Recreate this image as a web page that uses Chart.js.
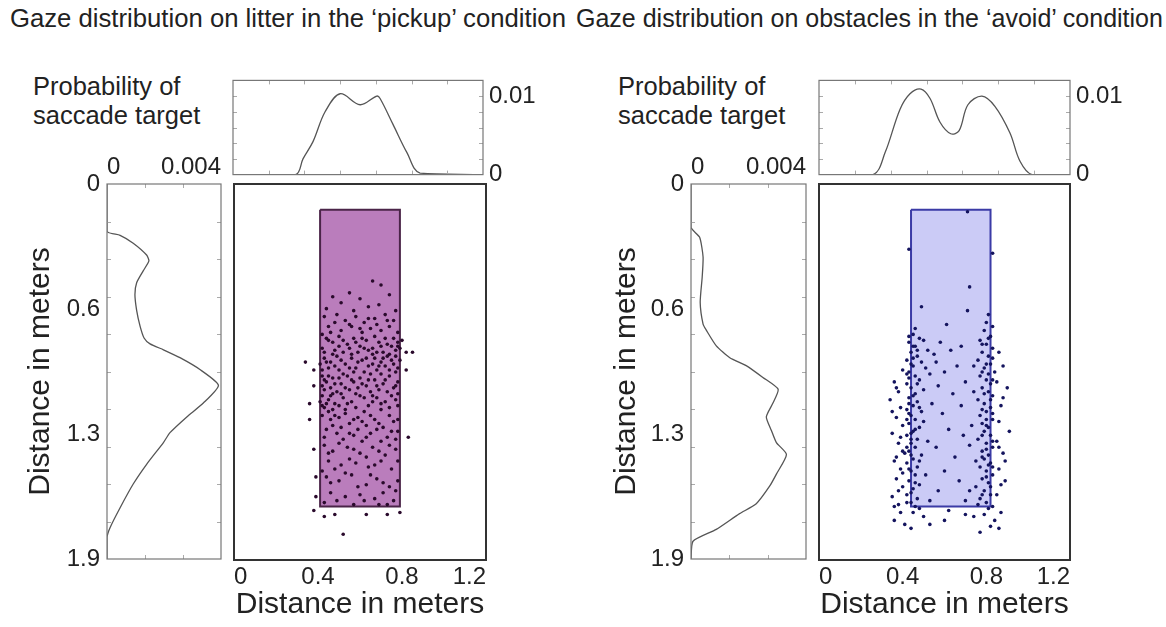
<!DOCTYPE html>
<html>
<head>
<meta charset="utf-8">
<script src="https://cdn.jsdelivr.net/npm/chart.js@4"></script>
<style>
  body { margin: 0; width: 1166px; height: 627px; overflow: hidden; position: relative; background: #fff;
         font-family: "Liberation Sans", Arial, sans-serif; color: #222; }
  canvas { position: absolute; }
  .title { position: absolute; top: 4px; font-size: 25.7px; white-space: nowrap; }
  .prob { position: absolute; top: 72px; font-size: 25.5px; line-height: 29px; white-space: nowrap; }
</style>
</head>
<body>
<div class="title" style="left:10px">Gaze distribution on litter in the ‘pickup’ condition</div>
<div class="title" style="left:576px;font-size:25px">Gaze distribution on obstacles in the ‘avoid’ condition</div>
<div class="prob" style="left:33px">Probability of<br>saccade target</div>
<div class="prob" style="left:618px">Probability of<br>saccade target</div>

<canvas id="topPickup"></canvas>
<canvas id="sidePickup"></canvas>
<canvas id="mainPickup"></canvas>
<canvas id="topAvoid"></canvas>
<canvas id="sideAvoid"></canvas>
<canvas id="mainAvoid"></canvas>

<script>
// --- ticks ---
const distTicks = [0, 0.4, 0.8, 1.2];
const sideDistTicks = [0, 0.633, 1.267, 1.9];
const sideProbTicks = [0, 0.004];
const topProbTicks = [0, 0.01];

// --- gaze target box (meters) ---
const pickupBoxX = [0.41, 0.79];
const pickupBoxY = [0.13, 1.63];
const avoidBoxX = [0.44, 0.82];
const avoidBoxY = [0.13, 1.63];

// --- horizontal distribution (top marginal) ---
const pickupTopX = [0, 0.30, 0.336, 0.384, 0.442, 0.514, 0.61, 0.69, 0.706, 0.768, 0.835, 0.898, 1.2];
const pickupTopP = [0, 0, 0.0020, 0.0042, 0.0080, 0.0103, 0.0089, 0.0100, 0.0097, 0.0064, 0.0028, 0.0002, 0];
const avoidTopX = [0, 0.258, 0.316, 0.387, 0.435, 0.488, 0.531, 0.578, 0.630, 0.670, 0.712, 0.779, 0.841, 0.913, 0.961, 1.018, 1.2];
const avoidTopP = [0, 0, 0.0028, 0.0083, 0.0103, 0.0109, 0.0097, 0.0067, 0.0052, 0.0056, 0.0089, 0.0100, 0.0087, 0.0053, 0.0017, 0, 0];

// --- distance distribution (left marginal) ---
const pickupSideDist = [0, 0.24, 0.26, 0.30, 0.36, 0.39, 0.44, 0.50, 0.56, 0.64, 0.72, 0.78, 0.81, 0.84, 0.88, 0.94, 1.02, 1.11, 1.18, 1.26, 1.31, 1.42, 1.52, 1.64, 1.74, 1.79, 1.9];
const pickupSideP = [0, 0, 0.00046, 0.00092, 0.00139, 0.00147, 0.00127, 0.00104, 0.00098, 0.00104, 0.00116, 0.00130, 0.00151, 0.00198, 0.00256, 0.00326, 0.00391, 0.00338, 0.00280, 0.00221, 0.00198, 0.00139, 0.00092, 0.00046, 0.00011, 0, 0];
const avoidSideDist = [0, 0.22, 0.27, 0.37, 0.47, 0.60, 0.71, 0.74, 0.82, 0.88, 0.92, 0.98, 1.04, 1.11, 1.18, 1.25, 1.31, 1.37, 1.47, 1.53, 1.62, 1.67, 1.75, 1.81, 1.9];
const avoidSideP = [0, 0, 0.00030, 0.00042, 0.00039, 0.00032, 0.00042, 0.00053, 0.00088, 0.00135, 0.00192, 0.00250, 0.00303, 0.00285, 0.00262, 0.00280, 0.00297, 0.00332, 0.00297, 0.00274, 0.00227, 0.00169, 0.00088, 0.00007, 0];

// --- saccade targets [x, distance] ---
const pickupGaze = [
  [0.66,0.49],[0.70,0.51],[0.55,0.55],[0.47,0.57],[0.60,0.58],[0.74,0.56],[0.51,0.60],[0.64,0.62],[0.44,0.63],[0.69,0.61],[0.77,0.64],[0.57,0.64],
  [0.43,0.67],[0.49,0.66],[0.53,0.69],[0.58,0.67],[0.62,0.70],[0.67,0.68],[0.72,0.66],[0.76,0.69],[0.45,0.72],[0.51,0.74],[0.56,0.72],[0.61,0.75],[0.65,0.73],[0.70,0.74],[0.74,0.72],[0.78,0.75],[0.42,0.76],[0.68,0.71],
  [0.48,0.70],[0.55,0.71],[0.64,0.68],[0.73,0.69],[0.60,0.73],[0.46,0.75],
  [0.44,0.78],[0.47,0.80],[0.50,0.77],[0.54,0.81],[0.57,0.78],[0.60,0.82],[0.63,0.79],[0.66,0.83],[0.69,0.80],[0.72,0.78],[0.75,0.82],[0.78,0.80],[0.42,0.83],[0.48,0.84],[0.52,0.85],[0.59,0.85],[0.64,0.84],[0.71,0.85],[0.77,0.84],[0.80,0.79],[0.82,0.85],[0.85,0.85],[0.55,0.83],[0.74,0.86],
  [0.45,0.79],[0.52,0.79],[0.58,0.80],[0.61,0.78],[0.67,0.77],[0.70,0.82],[0.76,0.78],[0.79,0.83],[0.43,0.85],[0.50,0.82],[0.56,0.86],[0.62,0.83],[0.68,0.85],[0.73,0.81],[0.77,0.87],[0.78,0.82],
  [0.43,0.88],[0.46,0.90],[0.49,0.87],[0.53,0.91],[0.56,0.88],[0.61,0.89],[0.64,0.92],[0.67,0.88],[0.70,0.90],[0.73,0.87],[0.76,0.91],[0.79,0.89],[0.45,0.93],[0.50,0.94],[0.58,0.93],[0.62,0.95],[0.68,0.94],[0.72,0.92],[0.77,0.95],[0.41,0.91],[0.34,0.90],[0.47,0.86],[0.66,0.86],[0.38,0.94],
  [0.44,0.90],[0.48,0.92],[0.51,0.89],[0.55,0.93],[0.59,0.90],[0.63,0.88],[0.66,0.91],[0.69,0.92],[0.71,0.88],[0.75,0.89],[0.78,0.93],[0.42,0.94],[0.52,0.96],[0.57,0.95],[0.65,0.96],[0.70,0.96],[0.74,0.94],
  [0.42,0.97],[0.44,1.00],[0.47,0.98],[0.51,1.01],[0.54,0.97],[0.57,1.00],[0.60,0.98],[0.63,1.02],[0.67,0.99],[0.71,1.01],[0.74,0.97],[0.78,1.00],[0.43,1.04],[0.46,1.03],[0.49,1.05],[0.55,1.04],[0.65,1.05],[0.69,1.04],[0.76,1.03],[0.38,1.02],[0.82,0.94],[0.59,1.03],
  [0.43,0.99],[0.45,0.97],[0.48,1.01],[0.50,0.98],[0.53,1.03],[0.56,0.99],[0.61,1.01],[0.64,0.99],[0.68,1.02],[0.72,0.99],[0.77,1.02],[0.42,1.02],[0.47,1.06],[0.51,1.06],[0.58,1.06],[0.62,1.08],[0.66,1.07],[0.73,1.05],[0.78,1.06],
  [0.42,1.07],[0.45,1.09],[0.48,1.11],[0.52,1.08],[0.56,1.10],[0.60,1.07],[0.64,1.12],[0.68,1.08],[0.72,1.10],[0.75,1.07],[0.78,1.12],[0.43,1.13],[0.47,1.14],[0.53,1.14],[0.62,1.15],[0.70,1.14],[0.36,1.11],[0.41,1.10],
  [0.44,1.11],[0.46,1.07],[0.50,1.12],[0.54,1.11],[0.58,1.13],[0.66,1.10],[0.70,1.11],[0.74,1.13],[0.77,1.09],[0.42,1.12],
  [0.42,1.17],[0.46,1.19],[0.50,1.18],[0.55,1.21],[0.59,1.18],[0.63,1.22],[0.67,1.19],[0.71,1.23],[0.76,1.20],[0.44,1.24],[0.49,1.26],[0.57,1.27],[0.65,1.26],[0.73,1.28],[0.78,1.25],[0.83,1.28],[0.36,1.19],[0.52,1.29],[0.61,1.30],
  [0.45,1.15],[0.48,1.17],[0.53,1.16],[0.57,1.19],[0.61,1.20],[0.65,1.17],[0.69,1.21],[0.74,1.17],[0.78,1.19],
  [0.47,1.22],[0.51,1.23],[0.59,1.24],[0.68,1.24],[0.75,1.25],[0.43,1.28],[0.55,1.26],[0.63,1.28],[0.70,1.30],[0.77,1.29],
  [0.43,1.32],[0.47,1.35],[0.54,1.33],[0.60,1.36],[0.66,1.33],[0.72,1.37],[0.77,1.34],[0.45,1.40],[0.51,1.42],[0.58,1.41],[0.64,1.43],[0.70,1.40],[0.75,1.44],[0.38,1.34],[0.42,1.45],
  [0.45,1.36],[0.50,1.31],[0.57,1.34],[0.63,1.38],[0.69,1.35],[0.74,1.32],[0.48,1.44],[0.55,1.39],[0.67,1.42],[0.78,1.40],
  [0.44,1.48],[0.50,1.50],[0.56,1.47],[0.63,1.52],[0.68,1.49],[0.74,1.53],[0.78,1.50],[0.46,1.56],[0.53,1.58],[0.60,1.57],[0.67,1.59],[0.71,1.56],[0.76,1.60],[0.43,1.61],[0.57,1.62],[0.73,1.62],[0.39,1.48],[0.39,1.58],
  [0.46,1.51],[0.53,1.46],[0.59,1.53],[0.65,1.47],[0.71,1.51],[0.77,1.55],[0.49,1.60],[0.62,1.60],[0.69,1.62],
  [0.38,1.65],[0.43,1.68],[0.48,1.67],[0.63,1.67],[0.73,1.67],[0.79,1.66],[0.52,1.77]
];
const avoidGaze = [
  [0.71,0.14],[0.83,0.35],[0.43,0.33],[0.72,0.52],[0.49,0.62],[0.71,0.64],[0.81,0.66],[0.61,0.71],[0.46,0.73],[0.80,0.70],[0.83,0.72],
  [0.45,0.76],[0.48,0.78],[0.43,0.80],[0.50,0.79],[0.46,0.82],[0.52,0.84],[0.44,0.85],[0.47,0.87],[0.42,0.89],[0.49,0.90],[0.45,0.92],[0.51,0.93],[0.43,0.95],[0.46,0.97],[0.48,0.99],[0.42,1.01],[0.44,1.03],[0.50,1.04],[0.46,1.06],[0.43,1.08],
  [0.47,1.10],[0.45,1.12],[0.42,1.14],[0.49,1.15],[0.44,1.17],[0.46,1.19],[0.43,1.21],[0.48,1.23],[0.45,1.25],[0.42,1.27],[0.47,1.29],[0.44,1.31],[0.46,1.33],[0.43,1.35],[0.49,1.37],[0.45,1.39],[0.42,1.41],[0.47,1.43],[0.44,1.45],[0.46,1.47],
  [0.43,1.50],[0.48,1.52],[0.45,1.54],[0.42,1.57],[0.47,1.59],[0.44,1.61],[0.46,1.63],[0.43,0.98],[0.44,1.26],[0.45,0.88],[0.43,1.16],[0.41,1.36],[0.53,0.96],[0.54,1.11],[0.52,1.30],[0.51,1.47],[0.55,0.86],[0.53,1.60],[0.50,1.20],
  [0.43,0.77],[0.47,0.84],[0.44,0.91],[0.42,0.96],[0.47,1.01],[0.45,1.07],[0.43,1.11],[0.48,1.13],[0.42,1.19],[0.46,1.24],[0.44,1.29],[0.42,1.33],[0.48,1.40],[0.43,1.44],[0.46,1.51],[0.44,1.56],[0.42,1.61],[0.48,1.64],[0.45,0.82],[0.44,1.37],
  [0.36,1.00],[0.38,1.05],[0.34,1.09],[0.39,1.13],[0.37,1.18],[0.40,1.22],[0.35,1.26],[0.38,1.31],[0.40,1.35],[0.36,1.40],[0.39,1.44],[0.37,1.49],[0.40,1.53],[0.35,1.58],[0.38,1.62],[0.40,0.94],[0.39,1.66],[0.36,1.70],[0.41,1.72],[0.38,1.55],
  [0.37,1.03],[0.35,1.15],[0.39,1.28],[0.37,1.38],[0.40,1.46],[0.36,1.63],
  [0.79,0.74],[0.82,0.77],[0.77,0.79],[0.80,0.81],[0.83,0.83],[0.78,0.85],[0.81,0.87],[0.76,0.89],[0.82,0.91],[0.79,0.93],[0.84,0.95],[0.77,0.97],[0.80,0.99],[0.82,1.01],[0.78,1.03],[0.81,1.05],[0.83,1.07],[0.76,1.09],[0.79,1.11],[0.82,1.13],
  [0.80,1.15],[0.77,1.17],[0.83,1.19],[0.78,1.21],[0.81,1.23],[0.79,1.25],[0.82,1.27],[0.76,1.29],[0.80,1.31],[0.83,1.33],[0.78,1.35],[0.81,1.37],[0.79,1.39],[0.82,1.41],[0.77,1.43],[0.80,1.45],[0.83,1.47],[0.78,1.49],[0.81,1.51],[0.75,1.53],
  [0.79,1.55],[0.82,1.57],[0.77,1.59],[0.80,1.61],[0.83,1.63],[0.74,1.05],[0.73,1.22],[0.75,1.40],[0.72,1.55],[0.74,0.92],[0.72,1.32],[0.76,1.62],[0.81,0.96],[0.80,1.19],[0.81,1.42],
  [0.81,0.78],[0.78,0.81],[0.83,0.88],[0.80,0.91],[0.78,0.95],[0.83,0.99],[0.79,1.06],[0.82,1.09],[0.78,1.14],[0.83,1.16],[0.80,1.22],[0.78,1.27],[0.83,1.30],[0.80,1.34],[0.78,1.38],[0.83,1.43],[0.80,1.48],[0.82,1.53],[0.78,1.57],[0.81,1.64],
  [0.86,0.85],[0.88,0.92],[0.85,1.00],[0.90,1.03],[0.87,1.12],[0.86,1.20],[0.91,1.25],[0.85,1.30],[0.88,1.36],[0.86,1.44],[0.89,1.50],[0.85,1.57],[0.87,1.66],[0.84,1.70],[0.86,1.74],
  [0.88,1.08],[0.86,1.33],[0.89,1.40],[0.87,1.52],
  [0.58,0.80],[0.63,0.84],[0.68,0.82],[0.56,0.90],[0.66,0.92],[0.60,0.95],[0.70,1.00],[0.57,1.02],[0.64,1.06],[0.68,1.12],[0.59,1.16],[0.62,1.24],[0.69,1.27],[0.56,1.33],[0.65,1.38],[0.60,1.45],[0.67,1.50],[0.57,1.55],[0.70,1.60],[0.62,1.65],
  [0.45,1.66],[0.50,1.68],[0.53,1.72],[0.60,1.70],[0.70,1.67],[0.74,1.68],[0.79,1.67],[0.82,1.73],[0.44,1.74],[0.77,1.76]
];

Chart.defaults.font.family = '"Liberation Sans", Arial, sans-serif';
Chart.defaults.color = "#222";

const tickFont = { size: 24 };
const axisTitleFont = { size: 30 };

// frame around the plot area, with small inward ticks
const framePlugin = {
    id: "frame",
    afterDraw(chart, args, opts) {
        const { ctx, chartArea: a } = chart;
        ctx.save();
        ctx.strokeStyle = opts.tickColor || "#aaa";
        ctx.lineWidth = 1;
        const nx = opts.nx || 0, ny = opts.ny || 0, len = 4;
        for (let i = 1; i < nx; i++) {
            const x = Math.round(a.left + (a.right - a.left) * i / nx) + 0.5;
            ctx.beginPath();
            ctx.moveTo(x, a.top); ctx.lineTo(x, a.top + len);
            ctx.moveTo(x, a.bottom); ctx.lineTo(x, a.bottom - len);
            ctx.stroke();
        }
        for (let i = 1; i < ny; i++) {
            const y = Math.round(a.top + (a.bottom - a.top) * i / ny) + 0.5;
            ctx.beginPath();
            ctx.moveTo(a.left, y); ctx.lineTo(a.left + len, y);
            ctx.moveTo(a.right, y); ctx.lineTo(a.right - len, y);
            ctx.stroke();
        }
        ctx.strokeStyle = opts.color || "#444";
        ctx.lineWidth = opts.width || 1.5;
        ctx.strokeRect(a.left, a.top, a.right - a.left, a.bottom - a.top);
        ctx.restore();
    },
};

function place(id, box) {
    const c = document.getElementById(id);
    c.width = box.w;
    c.height = box.h;
    c.style.left = box.x + "px";
    c.style.top = box.y + "px";
    c.style.width = box.w + "px";
    c.style.height = box.h + "px";
    return c;
}

const noGrid = { display: false, drawTicks: false };
const noBorder = { display: false };
const base = { responsive: false, animation: false, events: [] };

function pairs(xs, ys) {
    return xs.map((x, i) => ({ x: x, y: ys[i] }));
}

// --- top marginal: probability over horizontal distance ---
function topChart(id, box, area, xs, ps) {
    const axisW = 60;
    new Chart(place(id, box), {
        type: "scatter",
        data: { datasets: [{
            data: pairs(xs, ps),
            showLine: true, tension: 0.35, pointRadius: 0,
            borderColor: "#555", borderWidth: 1.3,
        }] },
        options: Object.assign({}, base, {
            layout: { padding: {
                left: area.l - box.x, top: area.t - box.y,
                right: box.x + box.w - area.r - axisW, bottom: box.y + box.h - area.b,
            } },
            plugins: { legend: { display: false }, tooltip: { enabled: false },
                       frame: { color: "#777", width: 1.2, nx: 7, ny: 6 } },
            scales: {
                x: { display: false, min: 0, max: 1.2 },
                y: {
                    position: "right", min: 0, max: 0.012,
                    afterBuildTicks: (s) => { s.ticks = topProbTicks.map((v) => ({ value: v })); },
                    afterFit: (s) => { s.width = axisW; },
                    ticks: { font: tickFont, padding: 6, callback: (v) => String(v) },
                    grid: noGrid, border: noBorder,
                },
            },
        }),
        plugins: [framePlugin],
    });
}

// --- left marginal: probability over distance ahead ---
function sideChart(id, box, area, dist, ps, titlePad) {
    const axisW = area.l - box.x;
    const axisH = area.t - box.y;
    new Chart(place(id, box), {
        type: "scatter",
        data: { datasets: [{
            data: pairs(ps, dist),
            showLine: true, tension: 0.2, pointRadius: 0,
            borderColor: "#555", borderWidth: 1.3,
        }] },
        options: Object.assign({}, base, {
            layout: { padding: { left: 0, top: 0, right: box.x + box.w - area.r, bottom: box.y + box.h - area.b } },
            plugins: { legend: { display: false }, tooltip: { enabled: false },
                       frame: { color: "#777", width: 1.2, nx: 3, ny: 10 } },
            scales: {
                x: {
                    position: "top", min: 0, max: 0.004,
                    afterBuildTicks: (s) => { s.ticks = sideProbTicks.map((v) => ({ value: v })); },
                    afterFit: (s) => { s.height = axisH; },
                    ticks: { font: tickFont, padding: 2, align: "inner", maxRotation: 0,
                             callback: (v) => (v === 0 ? "0" : v.toFixed(3)) },
                    grid: noGrid, border: noBorder,
                },
                y: {
                    position: "left", min: 0, max: 1.9, reverse: true,
                    afterBuildTicks: (s) => { s.ticks = sideDistTicks.map((v) => ({ value: v })); },
                    afterFit: (s) => { s.width = axisW; },
                    ticks: { font: tickFont, padding: 7, callback: (v) => (v === 0 ? "0" : v.toFixed(1)) },
                    title: { display: true, text: "Distance in meters", font: axisTitleFont, padding: { top: titlePad, bottom: 0 } },
                    grid: noGrid, border: noBorder,
                },
            },
        }),
        plugins: [framePlugin],
    });
}

// --- main panel: saccade targets over the object box ---
function mainChart(id, box, area, gaze, bx, by, fill, edge, dot) {
    const axisH = box.y + box.h - area.b;
    const corners = [
        { x: bx[0], y: by[0] }, { x: bx[1], y: by[0] },
        { x: bx[1], y: by[1] }, { x: bx[0], y: by[1] }, { x: bx[0], y: by[0] },
    ];
    new Chart(place(id, box), {
        type: "scatter",
        data: { datasets: [
            {
                data: gaze.map((p) => ({ x: p[0], y: p[1] })),
                pointRadius: 1.8, pointBackgroundColor: dot, pointBorderWidth: 0, order: 1,
            },
            {
                data: corners, showLine: true, fill: "shape", tension: 0,
                backgroundColor: fill, borderColor: edge, borderWidth: 2, pointRadius: 0, order: 2,
            },
        ] },
        options: Object.assign({}, base, {
            layout: { padding: { left: area.l - box.x, top: area.t - box.y, right: box.x + box.w - area.r, bottom: 0 } },
            plugins: { legend: { display: false }, tooltip: { enabled: false },
                       frame: { color: "#333", width: 2 } },
            scales: {
                x: {
                    min: 0, max: 1.2,
                    afterBuildTicks: (s) => { s.ticks = distTicks.map((v) => ({ value: v })); },
                    afterFit: (s) => { s.height = axisH; },
                    ticks: { font: tickFont, padding: 3, align: "inner", maxRotation: 0,
                             callback: (v) => String(v) },
                    title: { display: true, text: "Distance in meters", font: axisTitleFont, padding: { top: 0, bottom: 4 } },
                    grid: noGrid, border: noBorder,
                },
                y: { display: false, min: 0, max: 1.9, reverse: true },
            },
        }),
        plugins: [framePlugin],
    });
}

// left group: 'pickup'
topChart("topPickup", { x: 228, y: 60, w: 320, h: 135 }, { l: 233, t: 67, r: 483, b: 175 }, pickupTopX, pickupTopP);
sideChart("sidePickup", { x: 0, y: 140, w: 226, h: 460 }, { l: 107, t: 184, r: 221, b: 559 }, pickupSideDist, pickupSideP, 23);
mainChart("mainPickup", { x: 229, y: 180, w: 262, h: 447 }, { l: 234, t: 184, r: 486, b: 560 },
    pickupGaze, pickupBoxX, pickupBoxY, "rgba(182,118,184,0.95)", "#4a2448", "#2a0a2c");

// right group: 'avoid'
topChart("topAvoid", { x: 814, y: 60, w: 320, h: 135 }, { l: 819, t: 67, r: 1070, b: 175 }, avoidTopX, avoidTopP);
sideChart("sideAvoid", { x: 585, y: 140, w: 226, h: 460 }, { l: 691, t: 184, r: 806, b: 559 }, avoidSideDist, avoidSideP, 24);
mainChart("mainAvoid", { x: 814, y: 180, w: 262, h: 447 }, { l: 819, t: 184, r: 1070, b: 560 },
    avoidGaze, avoidBoxX, avoidBoxY, "rgba(200,200,246,0.95)", "#3b3ba6", "#14145e");
</script>
</body>
</html>
